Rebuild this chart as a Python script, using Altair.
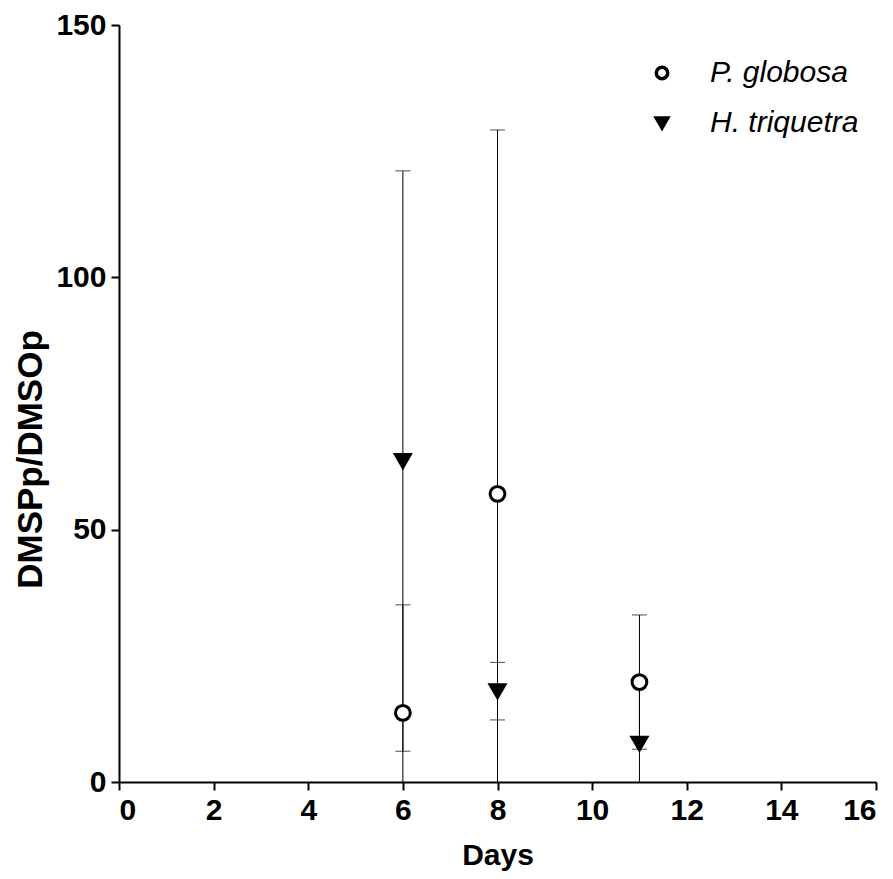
import altair as alt
import pandas as pd

series_names = ["P. globosa", "H. triquetra"]
days = [6, 8, 11]
pg_mean = [13.7, 57.1, 19.8]
pg_err = [21.4, 72.1, 13.3]
ht_mean = [63.6, 18.0, 7.6]
ht_err = [57.5, 5.7, 12.0]

rows = []
for name, means, errs in [(series_names[0], pg_mean, pg_err), (series_names[1], ht_mean, ht_err)]:
    for d, m, e in zip(days, means, errs):
        lo_raw = m - e
        rows.append({
            "series": name, "day": d, "mean": m,
            "hi": m + e, "lo": max(lo_raw, 0.0),
            "lo_cap": lo_raw if lo_raw > 0 else None,
        })
df = pd.DataFrame(rows)

FONT = "Liberation Sans"

x = alt.X("day:Q", title="Days",
          scale=alt.Scale(domain=[0, 16], nice=False, zero=False),
          axis=alt.Axis(values=list(range(0, 17, 2)), titlePadding=15))
y_axis = alt.Axis(values=[0, 50, 100, 150], titleFontSize=35,
                  titleAngle=270, titleX=-89, titleY=434,
                  titleAlign="center", titleBaseline="middle")

base = alt.Chart(df)

rules = base.mark_rule(color="black", strokeWidth=1).encode(
    x=x,
    y=alt.Y("lo:Q", title="DMSPp/DMSOp",
            scale=alt.Scale(domain=[0, 150], nice=False), axis=y_axis),
    y2="hi:Q",
)

cap_hi = base.mark_tick(color="black", thickness=1, size=15, orient="horizontal").encode(
    x="day:Q", y="hi:Q")
cap_lo = base.transform_filter("datum.lo_cap != null").mark_tick(
    color="black", thickness=1, size=15, orient="horizontal").encode(
    x="day:Q", y="lo_cap:Q")

leg = alt.Legend(title=None, orient="none", legendX=528, legendY=33,
                 labelFontSize=30, labelFontStyle="italic", labelFont=FONT,
                 labelColor="black", symbolSize=130, symbolStrokeWidth=3.5,
                 rowPadding=20, labelOffset=33, padding=0)

points = base.mark_point(filled=True, strokeWidth=3, size=220, opacity=1).encode(
    x="day:Q",
    y="mean:Q",
    shape=alt.Shape("series:N", sort=series_names,
                    scale=alt.Scale(domain=series_names, range=["circle", "triangle-down"]),
                    legend=leg),
    fill=alt.Fill("series:N", sort=series_names,
                  scale=alt.Scale(domain=series_names, range=["white", "black"]),
                  legend=leg),
    stroke=alt.Stroke("series:N", sort=series_names,
                      scale=alt.Scale(domain=series_names, range=["black", "black"]),
                      legend=leg),
)

chart = alt.layer(rules, cap_hi, cap_lo, points).properties(
    width=757, height=757,
    padding={"left": 111, "top": 17, "right": 9, "bottom": 89},
    autosize=alt.AutoSizeParams(type="none"),
).configure_view(stroke=None).configure_axis(
    grid=False,
    domainColor="black", domainWidth=2,
    tickColor="black", tickWidth=2, tickSize=8,
    labelFont=FONT, labelFontWeight="bold", labelFontSize=30, labelColor="black",
    titleFont=FONT, titleFontWeight="bold", titleFontSize=30, titleColor="black",
    labelPadding=5,
)

chart.save("out.html", embed_options={"renderer": "svg", "actions": False})
